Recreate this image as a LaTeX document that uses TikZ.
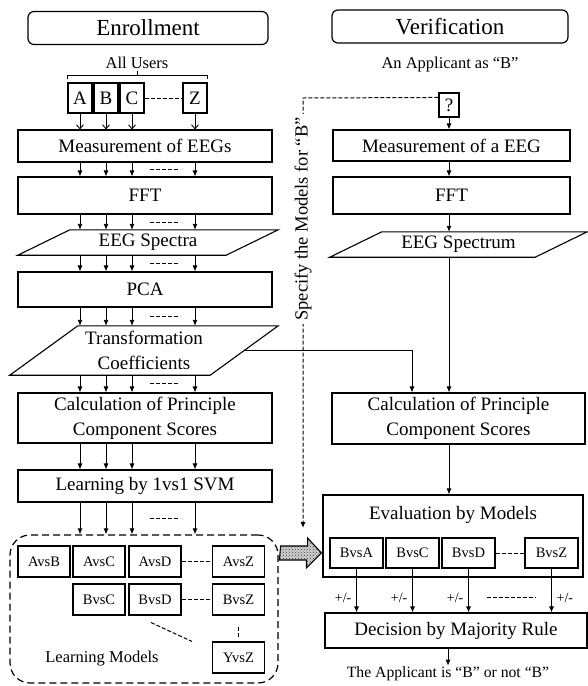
\documentclass[tikz,border=0pt]{standalone}
\usepackage{fontspec}
\setmainfont{Liberation Serif}
\usetikzlibrary{calc,arrows.meta,patterns}

\newcommand{\sizept}[1]{\fontsize{#1}{1.3\dimexpr#1pt\relax}\selectfont}

\begin{document}
\begin{tikzpicture}[
  x=1pt, y=-1pt,
  header/.style={draw,rounded corners=6pt,line width=1.2pt,minimum height=33pt,inner sep=0pt,font=\sizept{23}},
  box/.style={draw,line width=1.1pt,minimum width=254pt,inner sep=0pt,align=center,font=\sizept{19}},
  slab/.style={inner sep=0pt,align=center,font=\sizept{19}},
  user/.style={draw,line width=1.1pt,minimum width=24pt,minimum height=30pt,inner sep=0pt,font=\sizept{19}},
  model/.style={draw,line width=1.1pt,minimum width=52pt,minimum height=31pt,inner sep=0pt,font=\sizept{14.5}},
  note/.style={inner sep=1pt,font=\sizept{16.5}},
  pm/.style={inner sep=0pt,font=\sizept{14}},
  arrow/.style={-{Latex[length=6pt,width=5pt]},line width=0.9pt},
  openarrow/.style={-{Straight Barb[length=4pt,width=7pt]},line width=0.9pt},
  gap/.style={dash pattern=on 4pt off 2pt,line width=1pt},
  hatch/.style={line width=1.1pt,preaction={fill=gray!35},pattern=crosshatch dots,pattern color=black!80}
]
\useasboundingbox (0,0) rectangle (588,686);

% ===== ENROLLMENT (Left) =====
\node[header,minimum width=240pt] (enroll) at (148,28) {Enrollment};
\node[note] (allusers) at (137,63) {All Users};

% the users
\foreach \u/\x in {A/80,B/106,C/132,Z/195}
  \node[user] (user\u) at (\x,98) {\u};
\draw[gap] (userC) -- (userZ);

% brace over the users
\draw[line width=0.9pt] ([yshift=3pt]userA.north west) -- ++(0,-4) -| ([yshift=3pt]userZ.north east);
\draw[line width=0.9pt] ([yshift=7pt]$(userA.north west)!0.5!(userZ.north east)$) -- ++(0,-4);

% processing chain
\node[box,minimum height=32pt] (meas) at (145,146) {Measurement of EEGs};
\node[box,minimum height=37pt] (fft) at (145,195.5) {FFT};
\node[slab,minimum width=208pt,minimum height=25pt] (spectra) at (148,242.5) {EEG Spectra};
\node[box,minimum height=35pt] (pca) at (145,289.5) {PCA};
\node[slab,minimum width=200pt,minimum height=49pt] (coef) at (144,350.5) {Transformation\\Coefficients};
\node[box,minimum height=50pt] (calc) at (145,418) {Calculation of Principle\\Component Scores};
\node[box,minimum height=32pt] (learn) at (145,486) {Learning by 1vs1 SVM};

% learned models
\node[draw,rounded corners=20pt,line width=1.2pt,dash pattern=on 7pt off 4pt,
      minimum width=268pt,minimum height=148pt] (models) at (144,609) {};
\foreach \m/\x/\y in {AvsB/44/561.5,AvsC/99/561.5,AvsD/155/561.5,AvsZ/238.5/561.5,
                      BvsC/99/599.5,BvsD/155/599.5,BvsZ/238.5/599.5,YvsZ/238.5/657.5}
  \node[model] (\m) at (\x,\y) {\m};
\draw[gap] (AvsD) -- (AvsZ);
\draw[gap] (BvsD) -- (BvsZ);
\draw[gap,shorten <=11pt,shorten >=4pt] (BvsZ) -- (YvsZ);
\draw[gap] ([xshift=-4pt,yshift=-7pt]BvsD.south) -- ([xshift=-20pt]YvsZ.north west);
\node[note] (lmodels) at (102,659) {Learning Models};

% parallelograms
\foreach \n/\sl in {spectra/26,coef/34}
  \draw[line width=1.1pt] ([xshift=-\sl pt]\n.south west) -- ([xshift=-\sl pt]\n.south east)
    -- ([xshift=\sl pt]\n.north east) -- ([xshift=\sl pt]\n.north west) -- cycle;

% arrows down the chain
\foreach \x [count=\i] in {80,106,132,195}
  \coordinate (col\i) at (\x,0);
\coordinate (gapl) at (150,0);
\coordinate (gapr) at (180,0);

\foreach \u in {A,B,C,Z}
  \draw[openarrow] (user\u) -- (user\u |- meas.north);
\foreach \a/\b in {meas/fft,fft/spectra,spectra/pca,pca/coef,coef/calc,calc/learn,learn/models}
  \foreach \i in {1,...,4}
    \draw[arrow] (\a.south -| col\i) -- (\b.north -| col\i);
\foreach \a/\b in {meas/fft,fft/spectra,spectra/pca,pca/coef,coef/calc,learn/models} {
  \path ($(\a.south)!0.5!(\b.north)$) coordinate (mid);
  \draw[gap] (mid -| gapl) -- (mid -| gapr);
}

% ===== VERIFICATION (Right) =====
\node[header,minimum width=236pt] (verify) at (450,26.5) {Verification};
\node[note] (applicant) at (450,65) {An Applicant as ``B''};
\node[user,minimum width=20pt,minimum height=24pt] (query) at (449,105) {?};

\node[box,minimum width=237pt,minimum height=31pt] (meas2) at (451.5,145.5) {Measurement of a EEG};
\node[box,minimum width=237pt,minimum height=37pt] (fft2) at (451.5,195.5) {FFT};
\node[slab,minimum width=205pt,minimum height=25pt] (spectrum) at (458.5,244.5) {EEG Spectrum};
\draw[line width=1.1pt] ([xshift=-26pt]spectrum.south west) -- ([xshift=-26pt]spectrum.south east)
  -- ([xshift=26pt]spectrum.north east) -- ([xshift=26pt]spectrum.north west) -- cycle;
\node[box,minimum width=253pt,minimum height=51pt] (calc2) at (458.5,418.5) {Calculation of Principle\\Component Scores};

% evaluation with the models of "B"
\node[box,minimum width=260pt,minimum height=82pt] (eval) at (453,536) {};
\node[slab] (evaltxt) at (453,515) {Evaluation by Models};
\foreach \m/\x in {BvsA/356.5,BvsC/412.5,BvsD/468.5,BvsZ/551.5}
  \node[model,minimum width=53pt,minimum height=30pt] (e\m) at (\x,553) {\m};
\draw[gap] (eBvsD) -- (eBvsZ);

\node[box,minimum width=262pt,minimum height=35pt] (decide) at (456,630.5) {Decision by Majority Rule};
\node[note,font=\sizept{15.7}] (result) at (448,674) {The Applicant is ``B'' or not ``B''};

% arrows down the right side
\draw[arrow] (query) -- (query |- meas2.north);
\draw[arrow] (meas2.south -| query) -- (fft2.north -| query);
\draw[arrow] (fft2.south -| query) -- (spectrum.north -| query);
\draw[arrow] (spectrum.south -| query) -- (calc2.north -| query);
\draw[arrow] (calc2.south -| query) -- (eval.north -| query);
\draw[arrow] (coef.east) -| ([xshift=-46.5pt]calc2.north);

\foreach \m in {BvsA,BvsC,BvsD,BvsZ}
  \draw[arrow] (e\m) -- (e\m |- decide.north);
\foreach \m in {BvsA,BvsC,BvsD}
  \node[pm,anchor=east] at ([xshift=-5pt,yshift=-29pt]e\m.south) {+/-};
\node[pm,anchor=west] at ([xshift=5pt,yshift=-29pt]eBvsZ.south) {+/-};
\draw[gap] ([xshift=18pt,yshift=-29pt]eBvsD.south) -- ([xshift=-16pt,yshift=-29pt]eBvsZ.south);
\draw[arrow] (decide.south -| result) -- (result.north);

% models of "B" handed over
\coordinate (turn) at (303,98);
\coordinate (tip) at (303,528);
\draw[gap,-{Latex[length=6pt,width=5pt]}] ([yshift=-5pt]query.north west) -- (turn) -- (tip);
\node[rotate=90,fill=white,inner sep=3pt,font=\sizept{18.5}] (specify) at (303,219) {Specify the Models for ``B''};

\coordinate (hs) at (models.east |- eBvsA);
\coordinate (he) at (eval.west |- eBvsA);
\draw[hatch] ([xshift=2pt]hs) ++(0,-7) -- ++(27,0) -- ++(0,-8) -- ([xshift=-1pt]he)
  -- ++(-15,15) -- ++(0,-8) -- ++(-27,0) -- cycle;

\end{tikzpicture}
\end{document}
